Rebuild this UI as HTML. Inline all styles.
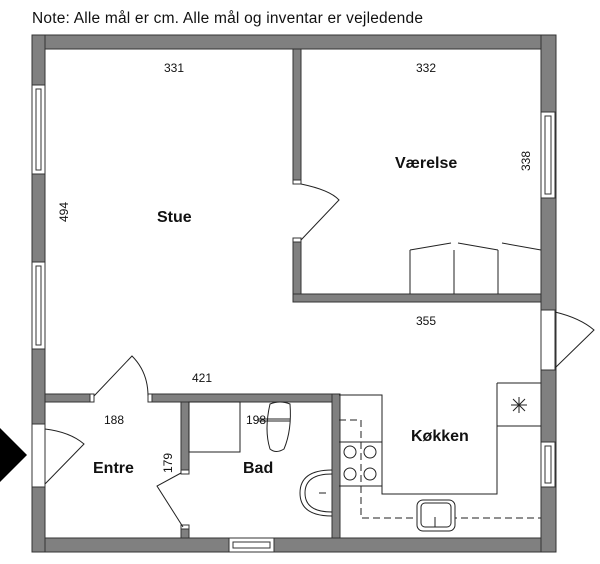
<!DOCTYPE html><html><head><style>body{margin:0;background:#fff}svg{display:block}text{font-family:"Liberation Sans",sans-serif}</style></head><body>
<svg width="600" height="564" viewBox="0 0 600 564" xmlns="http://www.w3.org/2000/svg">
<text x="32" y="23" font-size="15.5" fill="#111" letter-spacing="0.2">Note: Alle mål er cm. Alle mål og inventar er vejledende</text>
<g fill="#808080" stroke="#333" stroke-width="1">
<rect x="32" y="35" width="524" height="14"/>
<rect x="32" y="538" width="524" height="14"/>
<rect x="32" y="35" width="13" height="517"/>
<rect x="541" y="35" width="15" height="517"/>
<rect x="293" y="49" width="8" height="133"/>
<rect x="293" y="240" width="8" height="62"/>
<rect x="293" y="294" width="248" height="8"/>
<rect x="45" y="394" width="45" height="8"/>
<rect x="150" y="394" width="190" height="8"/>
<rect x="332" y="394" width="8" height="144"/>
<rect x="181" y="402" width="8" height="70"/>
<rect x="181" y="526" width="8" height="12"/>
</g>
<g fill="#fff" stroke="#333" stroke-width="1">
<rect x="32" y="85" width="13" height="89"/><rect x="36" y="89" width="5" height="81"/>
<rect x="32" y="262" width="13" height="87"/><rect x="36" y="266" width="5" height="79"/>
<rect x="541" y="112" width="14" height="86"/><rect x="545" y="116" width="6" height="78"/>
<rect x="541" y="442" width="14" height="45"/><rect x="545" y="446" width="6" height="37"/>
<rect x="229" y="538" width="45" height="14"/><rect x="233" y="542" width="37" height="6"/>
<rect x="32" y="424" width="13" height="63"/>
<rect x="541" y="310" width="14" height="60"/>
<rect x="293" y="180" width="8" height="4"/><rect x="293" y="238" width="8" height="4"/>
<rect x="90" y="394" width="4" height="8"/><rect x="148" y="394" width="4" height="8"/>
<rect x="181" y="470" width="8" height="4"/><rect x="181" y="525" width="8" height="4"/>
</g>
<g fill="none" stroke="#222" stroke-width="1">
<path d="M301 184 Q330 190 339 200 L301 240"/>
<path d="M94 396 L132 356 Q148 372 148 396"/>
<path d="M45 429 Q70 432 84 444 L45 484"/>
<path d="M555 312 Q580 318 594 330 L555 368"/>
<path d="M181 473 L157 486 L183 527"/>
<rect x="189" y="402" width="51" height="50"/>
<path d="M410 294 V250 M454 294 V250 M498 294 V250 M410 250 L451 243 M458 243 L498 250 M502 243 L541 250"/>
<path d="M270 404 Q280 400 290 404 Q292 430 284 449 Q276 454 270 449 Q264 430 270 404 Z"/>
<path d="M258 419 H290 M258 421 H290"/>
<path d="M332 470 Q300 470 300 493 Q300 516 332 516"/><path d="M332 474 Q305 474 305 493 Q305 512 332 512"/>
<path d="M319 493 H326"/>
<path d="M339 395 H382 V486 M339 442 H382 M339 486 H382 M382 486 V494 H497 V426 M497 383 H541 M497 383 V426 H541"/>
<path d="M511 405 H527 M519 397 V413 M513 399 L525 411 M525 399 L513 411"/>
<circle cx="350" cy="452" r="6"/><circle cx="370" cy="452" r="6"/><circle cx="350" cy="474" r="6"/><circle cx="370" cy="474" r="6"/>
<path d="M339 420 H361 V518 H541" stroke-dasharray="7 4"/>
<rect x="417" y="500" width="38" height="31" rx="6" fill="#fff"/><rect x="421" y="503" width="30" height="24" rx="4"/>
<path d="M435 517 V527 M429 527 H441"/>
</g>
<g font-size="12" fill="#111">
<text x="164" y="72">331</text><text x="416" y="72">332</text><text x="416" y="325">355</text>
<text x="192" y="382">421</text><text x="104" y="424">188</text><text x="246" y="424">198</text>
<text transform="translate(68 222) rotate(-90)">494</text>
<text transform="translate(530 171) rotate(-90)">338</text>
<text transform="translate(172 473) rotate(-90)">179</text>
</g>
<g font-size="16" font-weight="bold" fill="#111">
<text x="157" y="222">Stue</text><text x="395" y="168">Værelse</text><text x="411" y="441">Køkken</text>
<text x="93" y="473">Entre</text><text x="243" y="473">Bad</text>
</g>
<path d="M0 428 L27 455 L0 482 Z" fill="#000"/>
</svg></body></html>
